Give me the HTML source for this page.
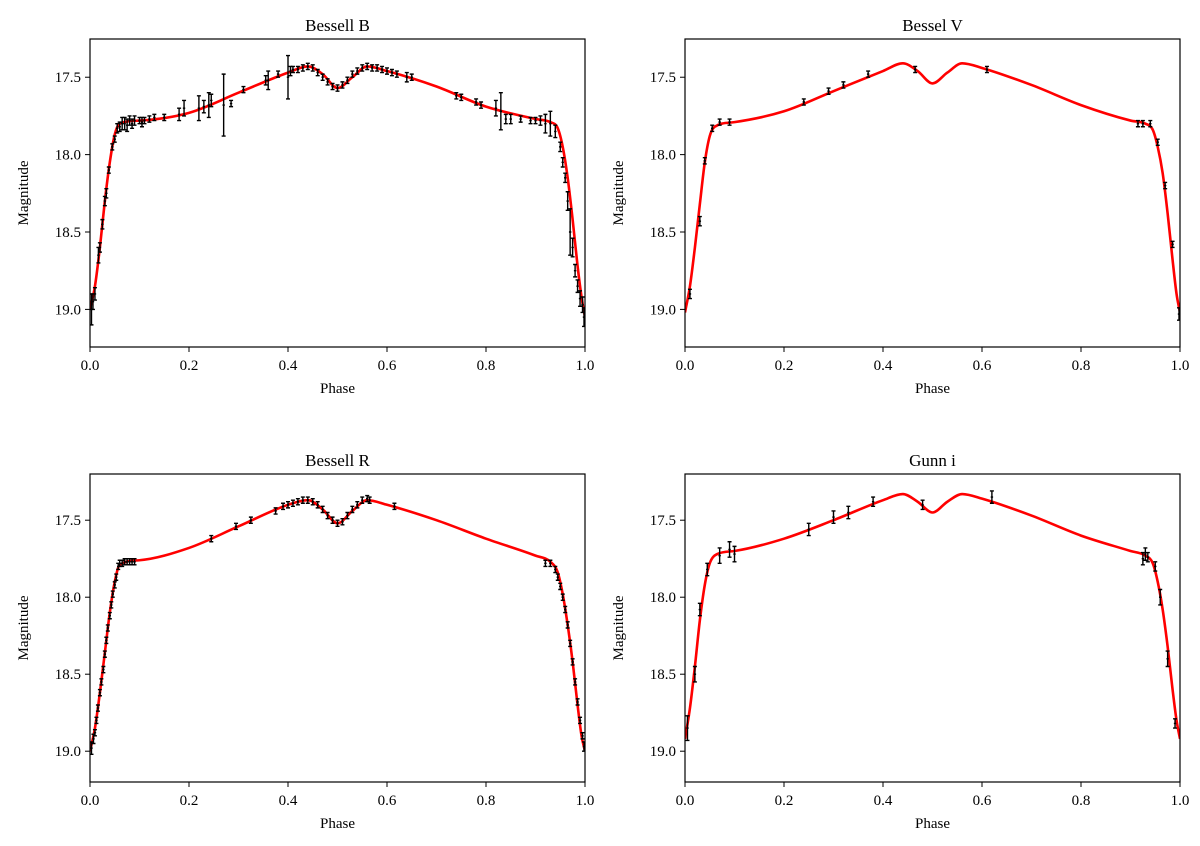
<!DOCTYPE html>
<html><head><meta charset="utf-8"><style>
html,body{margin:0;padding:0;background:#fff;}
svg{display:block;font-family:"Liberation Serif",serif;}
</style></head><body>
<svg id="fig" width="1200" height="846" viewBox="0 0 1200 846" xmlns="http://www.w3.org/2000/svg"></svg>
<script>
// ---- Bessell B ----
const bModelPhase=[0,0.01,0.02,0.03,0.04,0.05,0.06,0.1,0.2,0.3,0.4,0.44,0.47,0.5,0.53,0.56,0.6,0.7,0.8,0.9,0.93,0.945,0.955,0.965,0.975,0.985,0.993,1.0];
const bModelMag=[19.0,18.85,18.6,18.3,18.05,17.87,17.8,17.78,17.73,17.6,17.47,17.43,17.48,17.57,17.5,17.43,17.46,17.56,17.69,17.77,17.79,17.83,17.95,18.15,18.42,18.72,18.92,19.05];
const bPhase=[0.003,0.006,0.01,0.017,0.02,0.025,0.03,0.033,0.038,0.045,0.05,0.055,0.06,0.065,0.07,0.075,0.08,0.085,0.09,0.1,0.105,0.11,0.12,0.13,0.15,0.18,0.19,0.22,0.23,0.24,0.245,0.27,0.285,0.31,0.355,0.36,0.38,0.4,0.405,0.41,0.42,0.43,0.44,0.45,0.46,0.47,0.48,0.49,0.5,0.51,0.52,0.53,0.54,0.55,0.56,0.57,0.58,0.59,0.6,0.61,0.62,0.64,0.65,0.74,0.75,0.78,0.79,0.82,0.83,0.84,0.85,0.87,0.89,0.9,0.91,0.92,0.93,0.94,0.95,0.955,0.96,0.965,0.97,0.975,0.98,0.985,0.99,0.995,0.998];
const bMag=[19.0,18.95,18.9,18.65,18.6,18.45,18.3,18.25,18.1,17.95,17.9,17.83,17.82,17.8,17.8,17.81,17.78,17.8,17.78,17.78,17.79,17.78,17.77,17.76,17.76,17.74,17.7,17.7,17.69,17.68,17.65,17.68,17.67,17.58,17.52,17.52,17.48,17.5,17.46,17.45,17.45,17.44,17.43,17.44,17.47,17.5,17.53,17.56,17.57,17.55,17.52,17.48,17.46,17.44,17.43,17.44,17.44,17.45,17.46,17.47,17.48,17.5,17.5,17.62,17.63,17.66,17.68,17.7,17.72,17.77,17.77,17.77,17.78,17.78,17.78,17.8,17.8,17.85,17.95,18.05,18.15,18.3,18.5,18.6,18.75,18.85,18.93,18.97,19.05];
const bErr=[0.1,0.05,0.04,0.05,0.03,0.03,0.03,0.03,0.02,0.02,0.02,0.03,0.03,0.04,0.04,0.04,0.03,0.03,0.03,0.02,0.03,0.02,0.02,0.02,0.02,0.04,0.05,0.08,0.04,0.08,0.04,0.2,0.02,0.02,0.03,0.06,0.02,0.14,0.03,0.02,0.02,0.02,0.02,0.02,0.02,0.02,0.02,0.02,0.02,0.02,0.02,0.02,0.02,0.02,0.02,0.02,0.02,0.02,0.02,0.02,0.02,0.03,0.02,0.02,0.02,0.02,0.02,0.05,0.12,0.03,0.03,0.02,0.02,0.02,0.03,0.06,0.08,0.04,0.03,0.03,0.03,0.06,0.15,0.06,0.04,0.04,0.05,0.05,0.06];
// ---- Bessel V ----
const vModelPhase=[0,0.01,0.02,0.03,0.04,0.05,0.06,0.1,0.2,0.3,0.4,0.44,0.47,0.5,0.53,0.56,0.6,0.7,0.8,0.9,0.93,0.945,0.955,0.965,0.975,0.985,0.993,1.0];
const vModelMag=[19.02,18.85,18.6,18.32,18.05,17.88,17.82,17.79,17.72,17.59,17.46,17.41,17.46,17.54,17.47,17.41,17.44,17.55,17.68,17.78,17.8,17.84,17.95,18.12,18.38,18.68,18.9,19.02];
const vPhase=[0.01,0.03,0.04,0.055,0.07,0.09,0.24,0.29,0.32,0.37,0.465,0.61,0.915,0.925,0.94,0.955,0.97,0.985,0.998];
const vMag=[18.9,18.43,18.04,17.83,17.79,17.79,17.66,17.59,17.55,17.48,17.45,17.45,17.8,17.8,17.8,17.92,18.2,18.58,19.03];
const vErr=[0.03,0.03,0.02,0.02,0.02,0.02,0.02,0.02,0.02,0.02,0.02,0.02,0.02,0.02,0.02,0.02,0.02,0.02,0.04];
// ---- Bessell R ----
const rModelPhase=[0,0.01,0.02,0.03,0.04,0.05,0.06,0.1,0.2,0.3,0.4,0.44,0.47,0.5,0.53,0.56,0.6,0.7,0.8,0.9,0.93,0.945,0.955,0.965,0.975,0.985,0.993,1.0];
const rModelMag=[19.0,18.85,18.62,18.36,18.1,17.9,17.79,17.76,17.68,17.54,17.4,17.37,17.43,17.52,17.44,17.37,17.4,17.5,17.62,17.73,17.77,17.84,17.98,18.18,18.42,18.7,18.9,19.0];
const rPhase=[0.003,0.007,0.01,0.013,0.016,0.02,0.023,0.027,0.03,0.033,0.036,0.04,0.043,0.046,0.05,0.053,0.057,0.06,0.065,0.07,0.075,0.08,0.085,0.09,0.245,0.295,0.325,0.375,0.39,0.4,0.41,0.42,0.43,0.44,0.45,0.46,0.47,0.48,0.49,0.5,0.51,0.52,0.53,0.54,0.55,0.56,0.565,0.615,0.92,0.93,0.94,0.945,0.95,0.955,0.96,0.965,0.97,0.975,0.98,0.985,0.99,0.995,0.998];
const rMag=[18.98,18.92,18.88,18.8,18.72,18.62,18.55,18.47,18.37,18.28,18.2,18.12,18.05,17.98,17.92,17.87,17.8,17.78,17.78,17.77,17.77,17.77,17.77,17.77,17.62,17.54,17.5,17.44,17.41,17.4,17.39,17.38,17.37,17.37,17.38,17.4,17.43,17.47,17.5,17.52,17.51,17.47,17.43,17.4,17.37,17.36,17.37,17.41,17.78,17.78,17.82,17.87,17.93,18.0,18.08,18.18,18.3,18.42,18.55,18.68,18.8,18.9,18.97];
const rErr=[0.04,0.03,0.02,0.02,0.02,0.02,0.02,0.02,0.02,0.02,0.02,0.02,0.02,0.02,0.02,0.02,0.02,0.02,0.02,0.02,0.02,0.02,0.02,0.02,0.02,0.02,0.02,0.02,0.02,0.02,0.02,0.02,0.02,0.02,0.02,0.02,0.02,0.02,0.02,0.02,0.02,0.02,0.02,0.02,0.02,0.02,0.02,0.02,0.02,0.02,0.02,0.02,0.02,0.02,0.02,0.02,0.02,0.02,0.02,0.02,0.02,0.02,0.03];
// ---- Gunn i ----
const iModelPhase=[0,0.01,0.02,0.03,0.04,0.05,0.065,0.1,0.2,0.3,0.4,0.44,0.47,0.5,0.53,0.56,0.6,0.7,0.8,0.9,0.93,0.945,0.955,0.965,0.975,0.985,0.993,1.0];
const iModelMag=[18.92,18.72,18.45,18.15,17.92,17.78,17.72,17.7,17.62,17.5,17.37,17.33,17.38,17.45,17.38,17.33,17.36,17.47,17.6,17.7,17.73,17.78,17.9,18.08,18.32,18.6,18.8,18.92];
const iPhase=[0.005,0.02,0.03,0.045,0.07,0.09,0.1,0.25,0.3,0.33,0.38,0.48,0.62,0.925,0.93,0.935,0.95,0.96,0.975,0.99];
const iMag=[18.85,18.5,18.08,17.82,17.73,17.69,17.72,17.56,17.48,17.45,17.38,17.4,17.35,17.75,17.72,17.74,17.8,18.0,18.4,18.82];
const iErr=[0.08,0.05,0.04,0.04,0.05,0.05,0.05,0.04,0.04,0.04,0.03,0.03,0.04,0.04,0.04,0.03,0.03,0.05,0.05,0.03];

const xTicks=["0.0","0.2","0.4","0.6","0.8","1.0"];
const yTicks=["17.5","18.0","18.5","19.0"];

const NS="http://www.w3.org/2000/svg";
const svg=document.getElementById('fig');
function mk(tag,attrs,parent){const e=document.createElementNS(NS,tag);for(const k in attrs)e.setAttribute(k,attrs[k]);(parent||svg).appendChild(e);return e;}

const panels=[
 {name:'bessell-b',title:'Bessell B',x0:90,x1:585,y0:39,y1:347,m0:17.253,m1:19.243,mp:bModelPhase,mm:bModelMag,p:bPhase,m:bMag,e:bErr},
 {name:'bessel-v',title:'Bessel V',x0:685,x1:1180,y0:39,y1:347,m0:17.253,m1:19.243,mp:vModelPhase,mm:vModelMag,p:vPhase,m:vMag,e:vErr},
 {name:'bessell-r',title:'Bessell R',x0:90,x1:585,y0:474,y1:782,m0:17.2,m1:19.2,mp:rModelPhase,mm:rModelMag,p:rPhase,m:rMag,e:rErr},
 {name:'gunn-i',title:'Gunn i',x0:685,x1:1180,y0:474,y1:782,m0:17.2,m1:19.2,mp:iModelPhase,mm:iModelMag,p:iPhase,m:iMag,e:iErr}
];

// monotone cubic (Fritsch-Carlson) path
function smooth(pts){
 const n=pts.length,dx=[],s=[],m=[];
 for(let i=0;i<n-1;i++){dx[i]=pts[i+1][0]-pts[i][0];s[i]=(pts[i+1][1]-pts[i][1])/dx[i];}
 m[0]=s[0];m[n-1]=s[n-2];
 for(let i=1;i<n-1;i++){m[i]=(s[i-1]*s[i]<=0)?0:(s[i-1]+s[i])/2;}
 for(let i=0;i<n-1;i++){
  if(s[i]===0){m[i]=0;m[i+1]=0;continue;}
  const a=m[i]/s[i],b=m[i+1]/s[i],h=a*a+b*b;
  if(h>9){const t=3/Math.sqrt(h);m[i]=t*a*s[i];m[i+1]=t*b*s[i];}
 }
 let d='M'+pts[0][0].toFixed(2)+','+pts[0][1].toFixed(2);
 for(let i=0;i<n-1;i++){
  const h=dx[i]/3;
  d+='C'+(pts[i][0]+h).toFixed(2)+','+(pts[i][1]+m[i]*h).toFixed(2)+' '+(pts[i+1][0]-h).toFixed(2)+','+(pts[i+1][1]-m[i+1]*h).toFixed(2)+' '+pts[i+1][0].toFixed(2)+','+pts[i+1][1].toFixed(2);
 }
 return d;
}

panels.forEach(P=>{
 const g=mk('g',{});
 
 
 const X=v=>P.x0+v*(P.x1-P.x0);
 const Y=v=>P.y0+(v-P.m0)/(P.m1-P.m0)*(P.y1-P.y0);
 const clipId='clip-'+P.name;
 const cp=mk('clipPath',{id:clipId},g);
 mk('rect',{x:P.x0,y:P.y0,width:P.x1-P.x0,height:P.y1-P.y0},cp);
 const pts=P.mp.map((ph,i)=>[X(ph),Y(P.mm[i])]);
 const line=mk('path',{d:smooth(pts),fill:'none',stroke:'#ff0000','stroke-width':2.6,'clip-path':'url(#'+clipId+')'},g);
 
 
 const dg=mk('g',{stroke:'#000','stroke-width':1.4,'clip-path':'url(#'+clipId+')'},g);
 
 
 P.p.forEach((ph,i)=>{
  const x=X(ph),yc=Y(P.m[i]),ya=Y(P.m[i]-P.e[i]),yb=Y(P.m[i]+P.e[i]);
  const eb=mk('path',{d:`M${x},${ya}V${yb}M${x-2},${ya}H${x+2}M${x-2},${yb}H${x+2}M${x-1.2},${yc}H${x+1.2}`,fill:'none'},dg);
  
  
 });
 const fr=mk('rect',{x:P.x0,y:P.y0,width:P.x1-P.x0,height:P.y1-P.y0,fill:'none',stroke:'#000','stroke-width':1.2},g);
 
 
 xTicks.forEach(t=>{
  const x=X(parseFloat(t));
  mk('line',{x1:x,x2:x,y1:P.y1,y2:P.y1+5,stroke:'#000','stroke-width':1},g);
  const tx=mk('text',{x:x,y:P.y1+23,'font-size':15,'text-anchor':'middle',fill:'#000'},g);
  tx.textContent=t;
  
  
 });
 yTicks.forEach(t=>{
  const y=Y(parseFloat(t));
  mk('line',{x1:P.x0-5,x2:P.x0,y1:y,y2:y,stroke:'#000','stroke-width':1},g);
  const tx=mk('text',{x:P.x0-9,y:y+5,'font-size':15,'text-anchor':'end',fill:'#000'},g);
  tx.textContent=t;
  
  
 });
 const ti=mk('text',{x:(P.x0+P.x1)/2,y:P.y0-8,'font-size':17,'text-anchor':'middle',fill:'#000'},g);
 ti.textContent=P.title;
 
 
 const xl=mk('text',{x:(P.x0+P.x1)/2,y:P.y1+46,'font-size':15,'text-anchor':'middle',fill:'#000'},g);
 xl.textContent='Phase';
 
 
 const cy=(P.y0+P.y1)/2, lx=P.x0-62;
 const yl=mk('text',{x:lx,y:cy,'font-size':15,'text-anchor':'middle',fill:'#000',transform:`rotate(-90 ${lx} ${cy})`},g);
 yl.textContent='Magnitude';
 
 
});
</script>
</body></html>
